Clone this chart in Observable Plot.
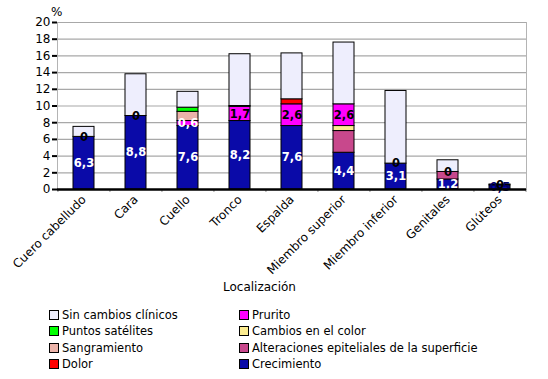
<!DOCTYPE html>
<html><head><meta charset="utf-8">
<script src="https://cdn.jsdelivr.net/npm/d3@7"></script>
<script src="https://cdn.jsdelivr.net/npm/@observablehq/plot@0.6"></script>
<style>
body{margin:0;background:#fff;font-family:"DejaVu Sans",Verdana,sans-serif;}
#wrap{position:relative;width:548px;height:379px;overflow:hidden;}
.item{position:absolute;display:flex;align-items:center;white-space:nowrap;font-size:11.5px;color:#000;height:14px;}
.sw{width:10px;height:10px;border:1px solid #000;margin-right:3px;box-sizing:border-box;}
.pct{position:absolute;left:51px;top:5px;font-size:12px;}
.xl{position:absolute;left:223px;top:280px;font-size:12px;}
</style></head><body><div id="wrap"></div>
<script>
const categories = ["Cuero cabelludo","Cara","Cuello","Tronco","Espalda","Miembro superior","Miembro inferior","Genitales","Glúteos"];
const seriesNames = ["Crecimiento","Alteraciones epiteliales de la superficie","Cambios en el color","Prurito","Sangramiento","Puntos satélites","Dolor","Sin cambios clínicos"];
const seriesColors = ["#0a0aa8","#c8488c","#fcec90","#ff00ff","#ebb3a9","#00ff00","#ff0000","#eeeefd"];
const crecimiento   = [6.3, 8.8, 7.6, 8.2, 7.6, 4.4, 3.1, 1.2, 0.5];
const alteraciones  = [0, 0, 0, 0, 0, 2.6, 0, 0.9, 0];
const cambiosColor  = [0, 0, 0, 0, 0, 0.6, 0, 0, 0];
const prurito       = [0, 0, 0.6, 1.7, 2.6, 2.6, 0, 0, 0];
const sangramiento  = [0, 0, 1.1, 0, 0, 0, 0, 0, 0];
const puntos        = [0, 0, 0.5, 0.1, 0, 0, 0, 0, 0];
const dolor         = [0, 0, 0, 0, 0.6, 0, 0, 0, 0];
const sinCambios    = [1.2, 5.0, 1.9, 6.2, 5.5, 7.4, 8.7, 1.4, 0.1];
const zeroLabels    = ["0","0","","","","","0","0","0"];
const yTicks = d3.range(0, 21, 2);
const legendCol1 = ["Sin cambios clínicos","Puntos satélites","Sangramiento","Dolor"];
const legendCol2 = ["Prurito","Cambios en el color","Alteraciones epiteliales de la superficie","Crecimiento"];

const seriesValues = [crecimiento, alteraciones, cambiosColor, prurito, sangramiento, puntos, dolor, sinCambios];
const rows = [];
categories.forEach((c, i) => {
  seriesValues.forEach((vals, s) => {
    if (vals[i] > 0) rows.push({cat: c, series: seriesNames[s], value: vals[i]});
  });
});
const fmt = v => String(v).replace(".", ",");
const crecLabels = categories.map((c, i) => ({cat: c, y: crecimiento[i] / 2, text: fmt(crecimiento[i]), value: crecimiento[i]}));
const prurLabels = categories.map((c, i) => {
  const base = crecimiento[i] + alteraciones[i] + cambiosColor[i];
  return {cat: c, y: base + prurito[i] / 2, text: fmt(prurito[i]), value: prurito[i]};
}).filter(d => d.value > 0);
const zLabels = categories.map((c, i) => {
  const base = seriesValues.slice(0, 7).reduce((a, arr) => a + arr[i], 0);
  return {cat: c, y: base, text: zeroLabels[i]};
}).filter(d => d.text);

const step = (548 - 57 - 22) / categories.length;

const chart = Plot.plot({
  width: 548, height: 300,
  marginLeft: 57, marginRight: 22, marginTop: 22, marginBottom: 111,
  style: {fontFamily: "DejaVu Sans, Verdana, sans-serif", fontSize: "12px", background: "white", color: "black"},
  x: {domain: categories, paddingInner: 0.6, paddingOuter: 0.3, label: null},
  y: {domain: [0, 20], label: null},
  color: {domain: seriesNames, range: seriesColors},
  marks: [
    Plot.frame({stroke: "#b4b4b4"}),
    Plot.ruleY(yTicks, {stroke: "#a8a8a8", strokeWidth: 1.2}),
    Plot.barY(rows, {x: "cat", y: "value", fill: "series", stroke: "black", strokeWidth: 1, order: seriesNames}),
    Plot.text(crecLabels, {x: "cat", y: "y", text: "text", fill: d => d.value < 1 ? "#000066" : "white", fontWeight: "bold", fontSize: 11.5}),
    Plot.text(prurLabels, {x: "cat", y: "y", text: "text", fill: d => d.value < 1 ? "white" : "black", fontWeight: "bold", fontSize: 11.5}),
    Plot.text(zLabels, {x: "cat", y: "y", text: "text", fill: "black", fontWeight: "bold", fontSize: 11.5}),
    Plot.ruleX(categories, {x: d => d, dx: -step / 2, y1: 0, y2: -0.35, stroke: "#888"}),
    Plot.ruleX(categories.slice(-1), {x: d => d, dx: step / 2, y1: 0, y2: -0.35, stroke: "#888"}),
    Plot.ruleY([0], {stroke: "black", strokeWidth: 2.5}),
    Plot.axisY({ticks: yTicks, tickSize: 5, tickPadding: 2, fontSize: 12, label: null, line: true, strokeWidth: 2}),
    Plot.axisX({tickRotate: -45, tickSize: 0, tickPadding: 8, fontSize: 12, label: null})
  ]
});

const wrap = document.getElementById("wrap");
wrap.appendChild(chart);
const pct = document.createElement("div"); pct.className = "pct"; pct.textContent = "%"; wrap.appendChild(pct);
const xl = document.createElement("div"); xl.className = "xl"; xl.textContent = "Localización"; wrap.appendChild(xl);
const rowY = [308, 324, 341, 357];
[[legendCol1, 49], [legendCol2, 239]].forEach(([names, left]) => {
  names.forEach((n, r) => {
    const it = document.createElement("div");
    it.className = "item";
    it.style.left = left + "px";
    it.style.top = rowY[r] + "px";
    const sw = document.createElement("span");
    sw.className = "sw";
    sw.style.background = seriesColors[seriesNames.indexOf(n)];
    it.appendChild(sw);
    it.appendChild(document.createTextNode(n));
    wrap.appendChild(it);
  });
});
</script></body></html>
